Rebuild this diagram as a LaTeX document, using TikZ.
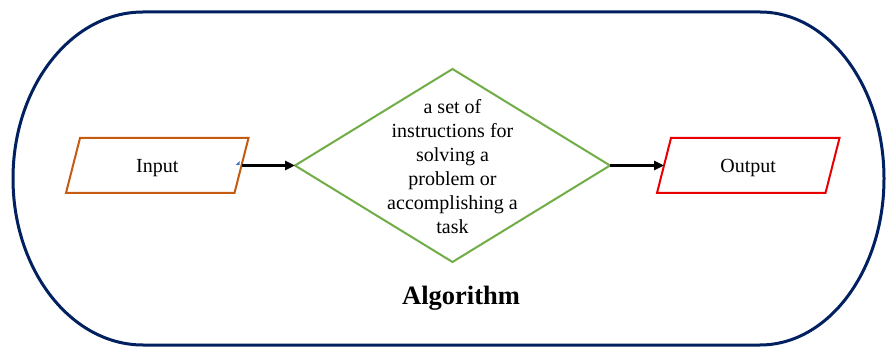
\documentclass[tikz,border=0pt]{standalone}
\usepackage{fontspec}
\setmainfont{Liberation Serif}
\usetikzlibrary{shapes.geometric,arrows.meta}
\definecolor{navy}{RGB}{0,32,96}
\definecolor{inorange}{RGB}{197,90,17}
\definecolor{dgreen}{RGB}{112,173,71}
\definecolor{outred}{RGB}{232,0,0}
\definecolor{handle}{RGB}{68,114,196}
\tikzset{
  iobox/.style={rectangle, draw=none, minimum width=168.5pt, minimum height=55pt,
    inner sep=0pt, outer sep=0pt, text height=13.5pt, text depth=0pt,
    font=\fontsize{20}{24}\selectfont},
  para/.style={line width=2pt, line join=miter},
  decision/.style={diamond, draw=dgreen, line width=2pt, minimum width=315pt,
    minimum height=193pt, inner sep=0pt, outer sep=0pt},
  desctext/.style={align=center, font=\fontsize{20}{24}\selectfont, inner sep=0pt},
  flowarrow/.style={line width=2.5pt, -{Triangle[length=10pt,width=9pt]}},
  frame/.style={draw=navy, line width=3pt},
  titletext/.style={font=\fontsize{26.5}{30}\selectfont\bfseries, anchor=base, inner sep=0pt}
}
\begin{document}
\begin{tikzpicture}[x=1pt,y=1pt]
\useasboundingbox (0,0) rectangle (886,348);
% outer stadium
\draw[frame] (143,336) -- (760,336)
  arc[start angle=90,end angle=-90,x radius=124,y radius=166.5]
  -- (143,3)
  arc[start angle=270,end angle=90,x radius=130,y radius=166.5] -- cycle;
% input
\node[iobox] (in) at (157.25,182.5) {Input};
\draw[para, draw=inorange] ([xshift=7pt]in.north west) -- ([xshift=7pt]in.north east)
  -- ([xshift=-7pt]in.south east) -- ([xshift=-7pt]in.south west) -- cycle;
% decision
\node[decision] (alg) at (452.5,182.5) {};
\node[desctext] (desc) at (452.5,181) {a set of\\instructions for\\solving a\\problem or\\accomplishing a\\task};
% output
\node[iobox] (out) at (748.25,182.5) {Output};
\draw[para, draw=outred] ([xshift=7pt]out.north west) -- ([xshift=7pt]out.north east)
  -- ([xshift=-7pt]out.south east) -- ([xshift=-7pt]out.south west) -- cycle;
% arrows
\draw[flowarrow] (in.east) -- (alg.west);
\draw[flowarrow] (alg.east) -- (out.west);
% small handle mark
\fill[handle] (235.5,183) -- (239.5,187) -- (239.5,183) -- cycle;
% title
\node[titletext] (title) at (461,43) {Algorithm};
\end{tikzpicture}
\end{document}
